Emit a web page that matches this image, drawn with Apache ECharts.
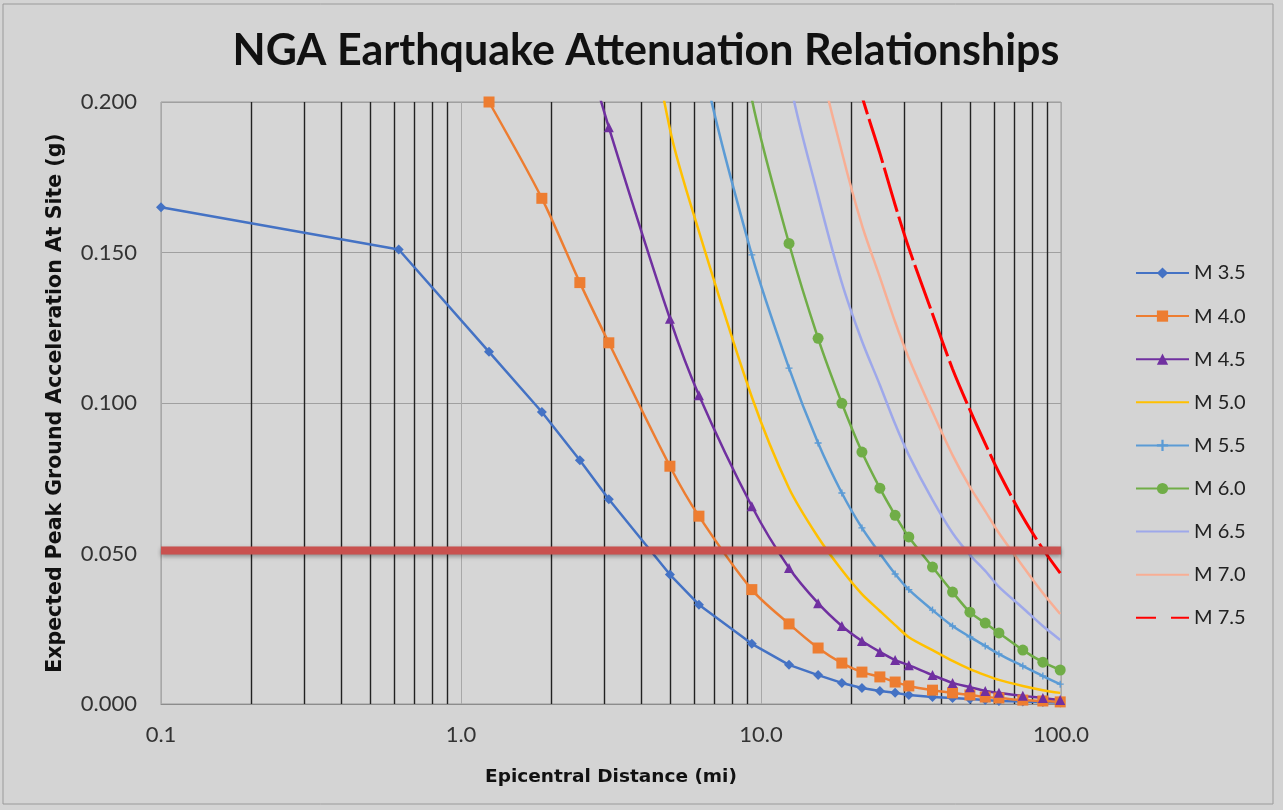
<!DOCTYPE html>
<html>
<head>
<meta charset="utf-8">
<script src="https://cdn.jsdelivr.net/npm/echarts@6/dist/echarts.min.js"></script>
<style>
html,body{margin:0;padding:0;background:#d4d4d4;}
#chart{width:1283px;height:810px;}
</style>
</head>
<body>
<div id="chart"></div>
<script>
// Epicentral distances (mi) — 0.1 mi, then 1..160 km converted to miles
const distances = [0.1, 0.62, 1.24, 1.86, 2.49, 3.11, 4.97, 6.21, 9.32, 12.4, 15.5, 18.6, 21.7, 24.9, 28.0, 31.1, 37.3, 43.5, 49.7, 55.9, 62.1, 74.6, 87.0, 99.4];

const m35 = [0.165, 0.151, 0.117, 0.097, 0.081, 0.068, 0.043, 0.033, 0.020, 0.013, 0.0096, 0.0070, 0.0053, 0.0043, 0.0037, 0.0030, 0.0023, 0.0020, 0.0017, 0.0013, 0.0010, 0.0008, 0.0007, 0.0005];
const m40 = [null, null, 0.200, 0.168, 0.140, 0.120, 0.079, 0.0624, 0.038, 0.0266, 0.0186, 0.0136, 0.0106, 0.0090, 0.0073, 0.0060, 0.0046, 0.0037, 0.0030, 0.0023, 0.0020, 0.0013, 0.0010, 0.0007];
const m45 = [null, null, null, null, 0.225, 0.1916, 0.128, 0.1026, 0.0657, 0.0452, 0.0335, 0.0259, 0.0209, 0.0173, 0.0146, 0.0129, 0.0096, 0.0070, 0.0056, 0.0043, 0.0037, 0.0027, 0.0020, 0.0013];
const m50 = [null, null, null, null, null, 0.300, 0.191, 0.157, 0.102, 0.0717, 0.0554, 0.0445, 0.0365, 0.0309, 0.0262, 0.0222, 0.0179, 0.0143, 0.0116, 0.0096, 0.0080, 0.0060, 0.0046, 0.0037];
const m55 = [null, null, null, null, null, null, 0.300, 0.220, 0.1492, 0.1116, 0.0867, 0.0701, 0.0585, 0.0500, 0.0432, 0.0380, 0.0312, 0.0259, 0.0223, 0.0193, 0.0166, 0.0126, 0.0093, 0.0066];
const m60 = [null, null, null, null, null, null, null, 0.300, 0.201, 0.153, 0.1215, 0.0999, 0.0837, 0.0717, 0.0627, 0.0555, 0.0455, 0.0372, 0.0305, 0.0269, 0.0236, 0.0179, 0.0139, 0.0113];
const m65 = [null, null, null, null, null, null, null, null, 0.300, 0.2086, 0.1688, 0.1399, 0.1206, 0.106, 0.093, 0.0827, 0.0678, 0.0568, 0.0495, 0.0442, 0.0389, 0.0319, 0.0259, 0.0213];
const m70 = [null, null, null, null, null, null, null, null, null, 0.300, 0.217, 0.1834, 0.1591, 0.1418, 0.1269, 0.1149, 0.0970, 0.0827, 0.0721, 0.0641, 0.0568, 0.0458, 0.0369, 0.0299];
const m75 = [null, null, null, null, null, null, null, null, null, null, null, 0.227, 0.202, 0.183, 0.1658, 0.1515, 0.1296, 0.1113, 0.0977, 0.0865, 0.0769, 0.0621, 0.0515, 0.0435];

const seriesNames = ['M 3.5', 'M 4.0', 'M 4.5', 'M 5.0', 'M 5.5', 'M 6.0', 'M 6.5', 'M 7.0', 'M 7.5'];
const seriesValues = [m35, m40, m45, m50, m55, m60, m65, m70, m75];

const thresholdValue = 0.051;
const thresholdRange = [0.1, 100];
const minorGridX = [0.2, 0.3, 0.4, 0.5, 0.6, 0.7, 0.8, 0.9, 2, 3, 4, 5, 6, 7, 8, 9, 20, 30, 40, 50, 60, 70, 80, 90];

const colors = ['#4472c4', '#ed7d31', '#7030a0', '#ffc000', '#5b9bd5', '#70ad47', '#9ea8ea', '#f8ae94', '#ff0000'];
const plusPath = 'path://M4,0h2v4h4v2h-4v4h-2v-4h-4v-2h4z';
const styles = [
  {symbol: 'diamond', symbolSize: 10, smooth: false},
  {symbol: 'rect', symbolSize: 11},
  {symbol: 'triangle', symbolSize: 10},
  {symbol: 'none'},
  {symbol: plusPath, symbolSize: 7},
  {symbol: 'circle', symbolSize: 11},
  {symbol: 'none'},
  {symbol: 'none'},
  {symbol: 'none', dashed: true}
];

const pair = vals => distances.map((d, i) => [d, vals[i]]);

const series = seriesNames.map((name, k) => ({
  name: name,
  type: 'line',
  data: pair(seriesValues[k]),
  symbol: styles[k].symbol,
  symbolSize: styles[k].symbolSize || 0,
  showSymbol: styles[k].symbol !== 'none',
  smooth: styles[k].smooth === false ? false : 0.3,
  clip: true,
  z: 3,
  connectNulls: false,
  color: colors[k],
  itemStyle: {color: colors[k]},
  lineStyle: {color: colors[k], width: k === 8 ? 3 : 2.5, type: styles[k].dashed ? [46, 5] : 'solid'},
  emphasis: {disabled: true},
  animation: false
}));

series.push({
  name: 'threshold',
  type: 'line',
  data: thresholdRange.map(x => [x, thresholdValue]),
  symbol: 'none',
  z: 4,
  lineStyle: {color: '#c9514f', width: 8, shadowColor: 'rgba(0,0,0,0.35)', shadowBlur: 4, shadowOffsetY: 2},
  animation: false,
  markLine: {
    silent: true,
    symbol: 'none',
    label: {show: false},
    lineStyle: {color: '#222222', width: 1.4, type: 'solid'},
    data: minorGridX.map(v => ({xAxis: v})),
    z: 1,
    animation: false
  }
});

const legendData = seriesNames.map((name, k) => {
  const item = {name: name};
  if (styles[k].symbol === 'none') item.itemStyle = {opacity: 0};
  if (styles[k].dashed) item.lineStyle = {type: [20, 15]};
  return item;
});

const chart = echarts.init(document.getElementById('chart'), null, {renderer: 'canvas'});
chart.setOption({
  backgroundColor: '#d4d4d4',
  animation: false,
  title: {
    text: 'NGA Earthquake Attenuation Relationships',
    left: 641, top: 25, textAlign: 'center',
    textStyle: {fontFamily: 'Lato', fontWeight: 'bold', fontSize: 43, color: '#111111'}
  },
  graphic: [{
    type: 'rect', shape: {x: 3, y: 4, width: 1270, height: 800},
    style: {fill: 'none', stroke: '#9a9a9a', lineWidth: 1}, silent: true, z: -1
  }],
  legend: {
    orient: 'vertical',
    left: 1130, top: 257,
    itemWidth: 53, itemHeight: 14, itemGap: 21.1,
    data: legendData,
    textStyle: {fontFamily: 'Lato', fontSize: 20, color: '#222222', lineHeight: 22}
  },
  grid: {left: 161, right: 222, top: 102, bottom: 106, show: true, backgroundColor: '#d6d6d6', borderColor: '#9a9a9a', borderWidth: 1},
  xAxis: {
    type: 'log', logBase: 10, min: 0.1, max: 100,
    name: 'Epicentral Distance (mi)', nameLocation: 'middle', nameGap: 64,
    nameTextStyle: {fontFamily: 'DejaVu Sans', fontWeight: 'bold', fontSize: 18.5, color: '#111111'},
    axisLine: {show: true, lineStyle: {color: '#8c8c8c', width: 1}},
    axisTick: {show: false},
    axisLabel: {margin: 20, fontFamily: 'Lato', fontSize: 22, color: '#333333', formatter: v => Number(v).toFixed(1)},
    splitLine: {show: true, lineStyle: {color: '#a8a8a8', width: 1}}
  },
  yAxis: {
    type: 'value', min: 0, max: 0.2, interval: 0.05,
    name: 'Expected Peak Ground Acceleration At Site (g)', nameLocation: 'middle', nameGap: 95, nameRotate: 90,
    nameTextStyle: {fontFamily: 'DejaVu Sans', fontWeight: 'bold', fontSize: 20.5, color: '#111111'},
    axisLine: {show: false},
    axisTick: {show: false},
    axisLabel: {margin: 24, fontFamily: 'Lato', fontSize: 22, color: '#333333', formatter: v => v.toFixed(3)},
    splitLine: {show: true, lineStyle: {color: '#a0a0a0', width: 1}}
  },
  series: series
});
</script>
</body>
</html>
